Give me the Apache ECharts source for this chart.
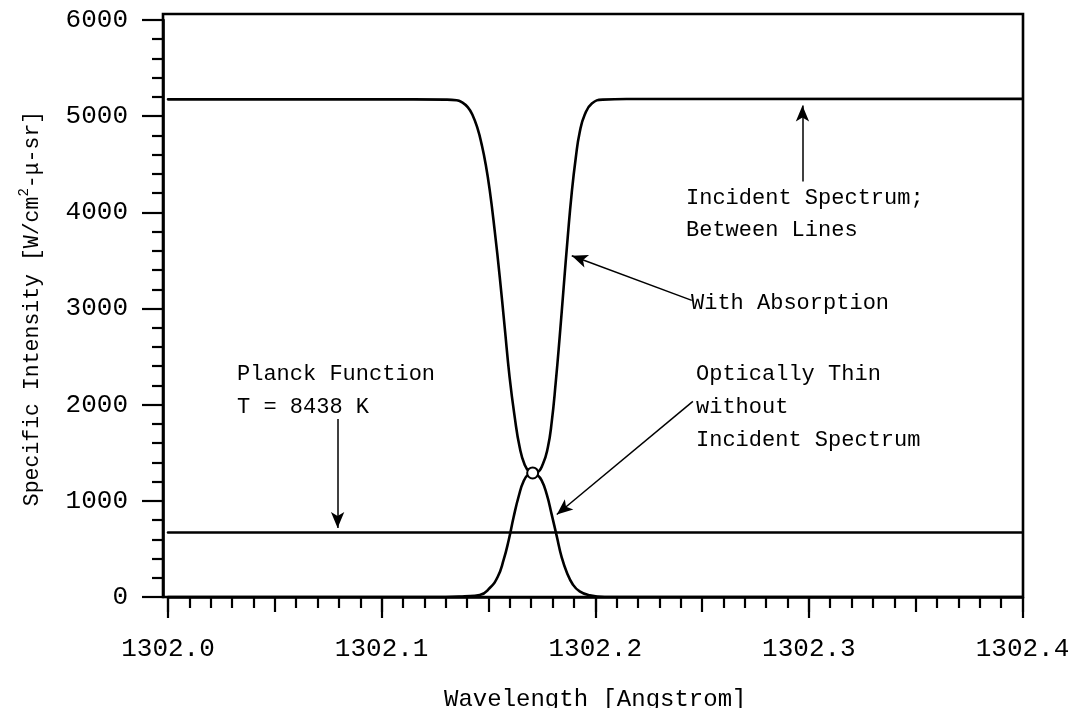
<!DOCTYPE html>
<html>
<head>
<meta charset="utf-8">
<script src="https://cdn.jsdelivr.net/npm/echarts@6/dist/echarts.min.js"></script>
<style>
  html, body { margin: 0; padding: 0; background: #fff; }
  #chart { width: 1074px; height: 708px; }
</style>
</head>
<body>
<div id="chart"></div>
<script>
// ---- data ----
const wavelengthAbs = [1302.000, 1302.100, 1302.1300, 1302.1351, 1302.1375, 1302.1403, 1302.1426, 1302.1450, 1302.1468, 1302.1487, 1302.1506, 1302.1529, 1302.1553, 1302.1576, 1302.1599, 1302.1623, 1302.1646, 1302.1670, 1302.1693, 1302.1707, 1302.1726, 1302.1754, 1302.1778, 1302.1796, 1302.1815, 1302.1834, 1302.1852, 1302.1871, 1302.1890, 1302.1909, 1302.1927, 1302.1951, 1302.1984, 1302.2035, 1302.2150, 1302.4000];
const intensityAbs  = [5175, 5175, 5172, 5166, 5146, 5094, 5010, 4865, 4709, 4501, 4231, 3815, 3326, 2807, 2287, 1871, 1559, 1372, 1299, 1290, 1295, 1378, 1555, 1815, 2231, 2719, 3218, 3738, 4206, 4570, 4830, 5017, 5131, 5172, 5178, 5180];

const wavelengthThin = [1302.000, 1302.1300, 1302.1389, 1302.1459, 1302.1506, 1302.1543, 1302.1571, 1302.1595, 1302.1618, 1302.1642, 1302.1665, 1302.1689, 1302.1707, 1302.1726, 1302.1749, 1302.1773, 1302.1796, 1302.1820, 1302.1843, 1302.1867, 1302.1895, 1302.1927, 1302.1974, 1302.2044, 1302.2200, 1302.4000];
const intensityThin  = [0, 0, 8, 21, 94, 208, 385, 593, 832, 1050, 1206, 1279, 1290, 1274, 1212, 1067, 859, 630, 412, 256, 131, 58, 17, 0, 0, 0];

const wavelengthPlanck = [1302.0, 1302.4];
const intensityPlanck  = [670, 670];

const crossingWavelength = [1302.1707];
const crossingIntensity  = [1290];

const xTickLabels = ['1302.0', '1302.1', '1302.2', '1302.3', '1302.4'];
const yTickLabels = ['0', '1000', '2000', '3000', '4000', '5000', '6000'];

// annotation arrows [tailX, tailY, tipX, tipY] in data units
const arrowIncident   = [1302.297, 4320, 1302.297, 5110];
const arrowAbsorption = [1302.2452, 3084, 1302.1890, 3549];
const arrowThin       = [1302.2457, 2034, 1302.1820, 858];
const arrowPlanck     = [1302.0794, 1850, 1302.0794, 717];

// ---- chart ----
const FONT = '"Liberation Mono", "Courier New", monospace';
const pairs = (xs, ys) => xs.map((x, i) => [x, ys[i]]);
const arrow = a => [{ coord: [a[0], a[1]] }, { coord: [a[2], a[3]] }];

const chart = echarts.init(document.getElementById('chart'), null, { renderer: 'canvas' });

const lineStyle = { color: '#000', width: 2.6, join: 'round', cap: 'round' };

const option = {
  animation: false,
  backgroundColor: '#fff',
  grid: { left: 168, right: 51.5, top: 20, bottom: 111, containLabel: false, outerBoundsMode: 'none' },
  xAxis: [
    {
      type: 'value', min: 1302.0, max: 1302.4, interval: 0.05,
      name: 'Wavelength [Angstrom]', nameLocation: 'middle', nameGap: 91,
      nameTextStyle: { fontFamily: FONT, fontSize: 24, color: '#000' },
      axisLine: { show: true, lineStyle: { color: '#000', width: 2.6 } },
      axisTick: { show: true, inside: false, length: 15, lineStyle: { color: '#000', width: 2.2 } },
      minorTick: { show: true, splitNumber: 5, length: 11, lineStyle: { color: '#000', width: 2.2 } },
      splitLine: { show: false },
      minorSplitLine: { show: false },
      axisLabel: {
        margin: 39, fontFamily: FONT, fontSize: 26, color: '#000',
        formatter: v => {
          const k = Math.round((v - 1302.0) * 10 * 100) / 100;
          return Number.isInteger(k) ? (xTickLabels[k] || '') : '';
        }
      }
    },
    {
      type: 'value', min: 1302.0, max: 1302.4, interval: 0.1, position: 'bottom',
      axisLine: { show: false },
      axisTick: { show: true, inside: false, length: 21, lineStyle: { color: '#000', width: 2.2 } },
      axisLabel: { show: false },
      splitLine: { show: false }
    }
  ],
  yAxis: {
    type: 'value', min: 0, max: 6000, interval: 1000, offset: 5,
    name: 'Specific Intensity [W/cm{sup|2}-μ-sr]', nameLocation: 'middle', nameGap: 116,
    nameTextStyle: {
      fontFamily: FONT, fontSize: 21.5, color: '#000', lineHeight: 30,
      rich: { sup: { fontFamily: FONT, fontSize: 14, color: '#000', verticalAlign: 'top', lineHeight: 14 } }
    },
    axisLine: { show: true, lineStyle: { color: '#000', width: 2.6 } },
    axisTick: { show: true, inside: false, length: 21, lineStyle: { color: '#000', width: 2.2 } },
    minorTick: { show: true, splitNumber: 5, length: 11, lineStyle: { color: '#000', width: 2.2 } },
    splitLine: { show: false },
    axisLabel: {
      margin: 35, fontFamily: FONT, fontSize: 26, color: '#000',
      formatter: v => yTickLabels[Math.round(v / 1000)] || ''
    }
  },
  series: [
    {
      name: 'Planck Function', type: 'line', showSymbol: false, silent: true,
      data: pairs(wavelengthPlanck, intensityPlanck),
      lineStyle: lineStyle,
      markLine: {
        silent: true, symbol: ['none', 'arrow'], symbolSize: [10, 16],
        lineStyle: { color: '#000', width: 1.5, type: 'solid' },
        label: { show: false },
        data: [arrow(arrowIncident), arrow(arrowAbsorption), arrow(arrowThin), arrow(arrowPlanck)]
      }
    },
    {
      name: 'With Absorption', type: 'line', showSymbol: false, silent: true,
      smooth: 0.5,
      data: pairs(wavelengthAbs, intensityAbs),
      lineStyle: lineStyle
    },
    {
      name: 'Optically Thin', type: 'line', showSymbol: false, silent: true,
      smooth: 0.5,
      data: pairs(wavelengthThin, intensityThin),
      lineStyle: lineStyle
    },
    {
      name: 'Crossing', type: 'scatter', silent: true, z: 5,
      symbol: 'circle', symbolSize: 11,
      itemStyle: { color: '#fff', borderColor: '#000', borderWidth: 2, opacity: 1 },
      data: pairs(crossingWavelength, crossingIntensity)
    }
  ],
  graphic: [
    { type: 'rect', silent: true, z: 10,
      shape: { x: 163, y: 14, width: 860, height: 583 },
      style: { fill: 'none', stroke: '#000', lineWidth: 2.6 } },
    { type: 'text', silent: true, left: 237, top: 358,
      style: { text: 'Planck Function\nT = 8438 K', font: '22px ' + FONT, fill: '#000', lineHeight: 33 } },
    { type: 'text', silent: true, left: 686, top: 182,
      style: { text: 'Incident Spectrum;\nBetween Lines', font: '22px ' + FONT, fill: '#000', lineHeight: 32 } },
    { type: 'text', silent: true, left: 691, top: 292,
      style: { text: 'With Absorption', font: '22px ' + FONT, fill: '#000' } },
    { type: 'text', silent: true, left: 696, top: 358,
      style: { text: 'Optically Thin\nwithout\nIncident Spectrum', font: '22px ' + FONT, fill: '#000', lineHeight: 33 } }
  ]
};

chart.setOption(option);
</script>
</body>
</html>
